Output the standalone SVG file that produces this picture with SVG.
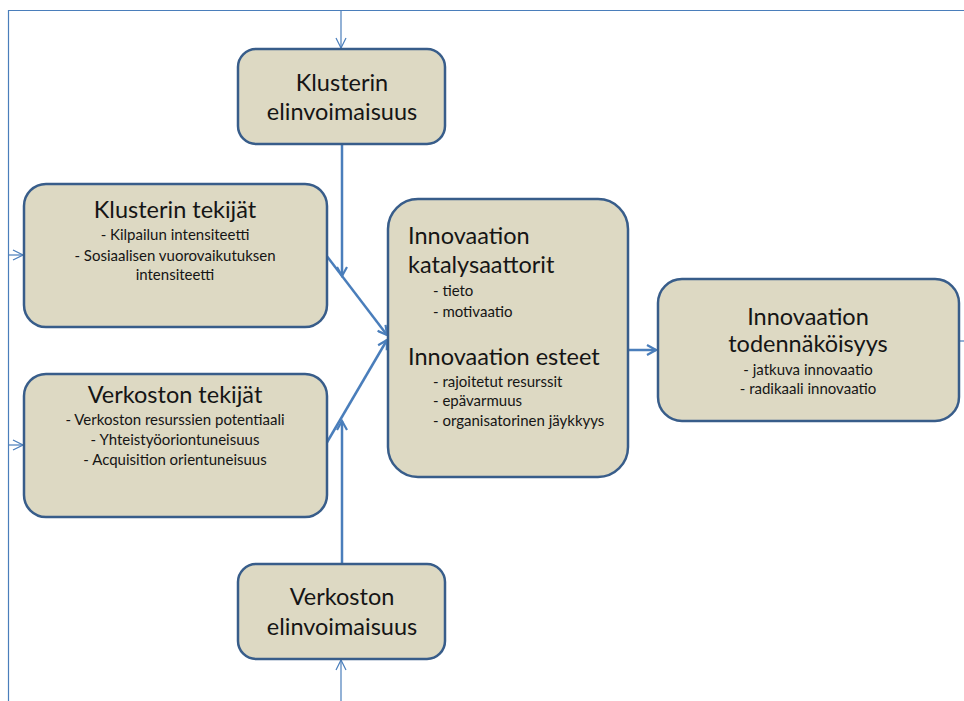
<svg xmlns="http://www.w3.org/2000/svg" width="964" height="701" viewBox="0 0 964 701">
  <style>
    .box { fill: #ddd9c3; stroke: #385d8a; stroke-width: 2.5; }
    .title { font-family: Lato, "Liberation Sans", sans-serif; font-size: 23.5px; fill: #151515; }
    .sub { font-family: Lato, "Liberation Sans", sans-serif; font-size: 15px; fill: #151515; }
    .mid { text-anchor: middle; }
    .thick { stroke: #4a7ebb; stroke-width: 2.5; fill: none; }
    .thin { stroke: #4a7ebb; stroke-width: 1.2; fill: none; }
  </style>
  <defs>
    <marker id="arrThick" viewBox="0 0 12 12" refX="10" refY="6" markerWidth="12" markerHeight="12" markerUnits="userSpaceOnUse" orient="auto">
      <path d="M1,1 L10,6 L1,11" fill="none" stroke="#4a7ebb" stroke-width="2.2"/>
    </marker>
    <marker id="arrThin" viewBox="0 0 12 12" refX="11" refY="6" markerWidth="12" markerHeight="12" markerUnits="userSpaceOnUse" orient="auto">
      <path d="M1,1 L11,6 L1,11" fill="none" stroke="#4a7ebb" stroke-width="1.2"/>
    </marker>
  </defs>

  <rect width="964" height="701" fill="#ffffff"/>

  <g id="connectors">
    <!-- outer frame lines -->
    <path class="thin" d="M8.5,701 L8.5,10.5 L964,10.5"/>
    <!-- thin feeders -->
    <path class="thin" d="M341,10.5 L341,48" marker-end="url(#arrThin)"/>
    <path class="thin" d="M8.5,255 L23,255" marker-end="url(#arrThin)"/>
    <path class="thin" d="M8.5,445 L23,445" marker-end="url(#arrThin)"/>
    <path class="thin" d="M341,701 L341,660" marker-end="url(#arrThin)"/>
    <path class="thin" d="M959,341 L964,341"/>
    <!-- main flows -->
    <path class="thick" d="M342,144 L342,276" marker-end="url(#arrThick)"/>
    <path class="thick" d="M326,255 L387,335" marker-end="url(#arrThick)"/>
    <path class="thick" d="M326,444 L387,340" marker-end="url(#arrThick)"/>
    <path class="thick" d="M342,564 L342,421" marker-end="url(#arrThick)"/>
    <path class="thick" d="M628,350 L656,350" marker-end="url(#arrThick)"/>
  </g>

  <g id="klusterin-elinvoimaisuus">
    <rect class="box" x="238" y="49" width="207" height="95" rx="18"/>
    <text class="title mid" x="342" y="91">Klusterin</text>
    <text class="title mid" x="342" y="120">elinvoimaisuus</text>
  </g>

  <g id="klusterin-tekijat">
    <rect class="box" x="24" y="184" width="303" height="143" rx="22"/>
    <text class="title mid" x="175" y="218">Klusterin tekijät</text>
    <text class="sub mid" x="175" y="240">- Kilpailun intensiteetti</text>
    <text class="sub mid" x="175" y="261">- Sosiaalisen vuorovaikutuksen</text>
    <text class="sub mid" x="175" y="280">intensiteetti</text>
  </g>

  <g id="verkoston-tekijat">
    <rect class="box" x="24" y="374" width="303" height="143" rx="22"/>
    <text class="title mid" x="175" y="403">Verkoston tekijät</text>
    <text class="sub mid" x="175" y="425">- Verkoston resurssien potentiaali</text>
    <text class="sub mid" x="175" y="445">-  Yhteistyöoriontuneisuus</text>
    <text class="sub mid" x="175" y="465">- Acquisition orientuneisuus</text>
  </g>

  <g id="innovaation-tekijat">
    <rect class="box" x="388" y="199" width="240" height="278" rx="30"/>
    <text class="title" x="408" y="244">Innovaation</text>
    <text class="title" x="408" y="273">katalysaattorit</text>
    <text class="sub" x="433" y="296">- tieto</text>
    <text class="sub" x="433" y="317">- motivaatio</text>
    <text class="title" x="408" y="365">Innovaation esteet</text>
    <text class="sub" x="433" y="387">- rajoitetut resurssit</text>
    <text class="sub" x="433" y="406">- epävarmuus</text>
    <text class="sub" x="433" y="426">- organisatorinen jäykkyys</text>
  </g>

  <g id="innovaation-todennakoisyys">
    <rect class="box" x="658" y="279" width="301" height="142" rx="24"/>
    <text class="title mid" x="808" y="325">Innovaation</text>
    <text class="title mid" x="808" y="352">todennäköisyys</text>
    <text class="sub mid" x="808" y="375">- jatkuva innovaatio</text>
    <text class="sub mid" x="808" y="394">- radikaali innovaatio</text>
  </g>

  <g id="verkoston-elinvoimaisuus">
    <rect class="box" x="238" y="564" width="207" height="95" rx="18"/>
    <text class="title mid" x="342" y="605">Verkoston</text>
    <text class="title mid" x="342" y="635">elinvoimaisuus</text>
  </g>
</svg>
